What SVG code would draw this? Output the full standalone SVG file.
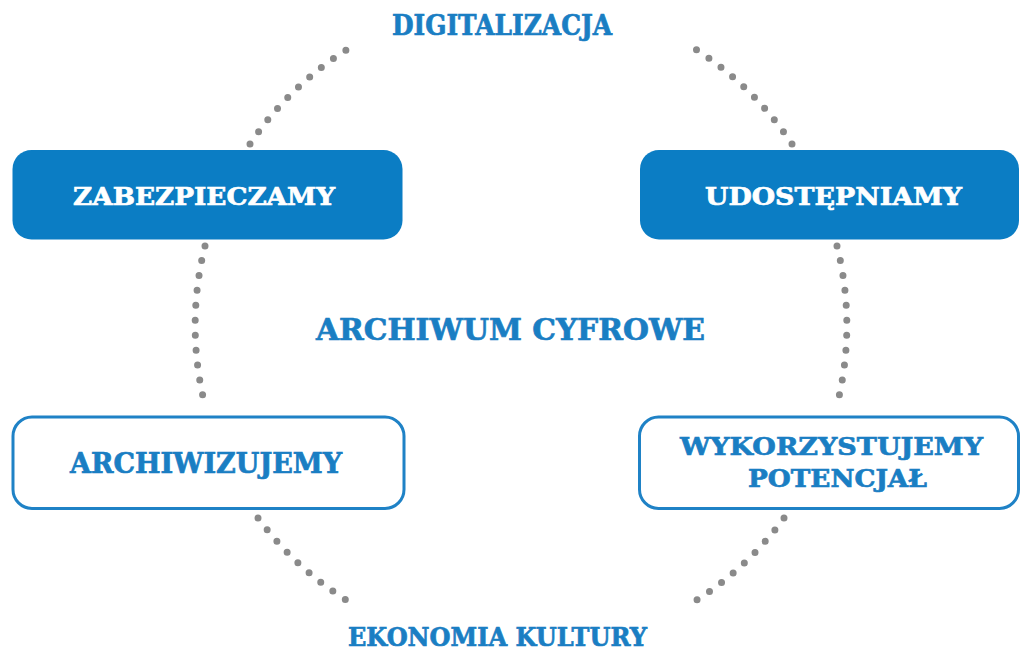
<svg xmlns="http://www.w3.org/2000/svg" width="1020" height="651" viewBox="0 0 1020 651">
<style>
.t{font-family:"DejaVu Serif","Liberation Serif",serif;font-weight:bold;text-anchor:middle;stroke-width:0.7}
.b{fill:#1a7ec3;stroke:#1a7ec3}
.w{fill:#ffffff;stroke:#ffffff}
.dot{fill:none;stroke:#8a8a8a;stroke-width:7;stroke-linecap:round;stroke-dasharray:0 15}
.fill{fill:#0b7dc4}
.out{fill:#ffffff;stroke:#1f82c6;stroke-width:3}
</style>
<rect width="1020" height="651" fill="#ffffff"/>
<g id="connectors">
<path class="dot" d="M250 144 A326 326 0 0 1 351 47"/>
<path class="dot" d="M792 144 A326 326 0 0 0 692 47"/>
<path class="dot" d="M205 246 A326 326 0 0 0 205 405"/>
<path class="dot" d="M837 246 A326 326 0 0 1 837 405"/>
<path class="dot" d="M258 518 A326 326 0 0 0 351 603"/>
<path class="dot" d="M784 518 A326 326 0 0 1 692 603"/>
</g>
<g id="digitalizacja"><text class="t b" x="502" y="35" font-size="27" textLength="220" lengthAdjust="spacingAndGlyphs">DIGITALIZACJA</text></g>
<g id="zabezpieczamy">
<rect class="fill" x="12.5" y="150" width="390" height="89.5" rx="19"/>
<text class="t w" x="204" y="205" font-size="25" textLength="262" lengthAdjust="spacingAndGlyphs">ZABEZPIECZAMY</text>
</g>
<g id="udostepniamy">
<rect class="fill" x="640" y="150" width="379" height="89.5" rx="19"/>
<text class="t w" x="833.5" y="205" font-size="25" textLength="257" lengthAdjust="spacingAndGlyphs">UDOSTĘPNIAMY</text>
</g>
<g id="archiwum"><text class="t b" x="510.5" y="340" font-size="30" textLength="389" lengthAdjust="spacingAndGlyphs">ARCHIWUM CYFROWE</text></g>
<g id="archiwizujemy">
<rect class="out" x="13" y="417" width="391" height="91.5" rx="19"/>
<text class="t b" x="206" y="473" font-size="27" textLength="272" lengthAdjust="spacingAndGlyphs">ARCHIWIZUJEMY</text>
</g>
<g id="wykorzystujemy">
<rect class="out" x="639.5" y="417" width="379" height="91.5" rx="19"/>
<text class="t b" x="831.5" y="455" font-size="25" textLength="303" lengthAdjust="spacingAndGlyphs">WYKORZYSTUJEMY</text>
<text class="t b" x="837.5" y="487" font-size="25" textLength="179" lengthAdjust="spacingAndGlyphs">POTENCJAŁ</text>
</g>
<g id="ekonomia"><text class="t b" x="497.5" y="646" font-size="26" textLength="299" lengthAdjust="spacingAndGlyphs">EKONOMIA KULTURY</text></g>
</svg>
